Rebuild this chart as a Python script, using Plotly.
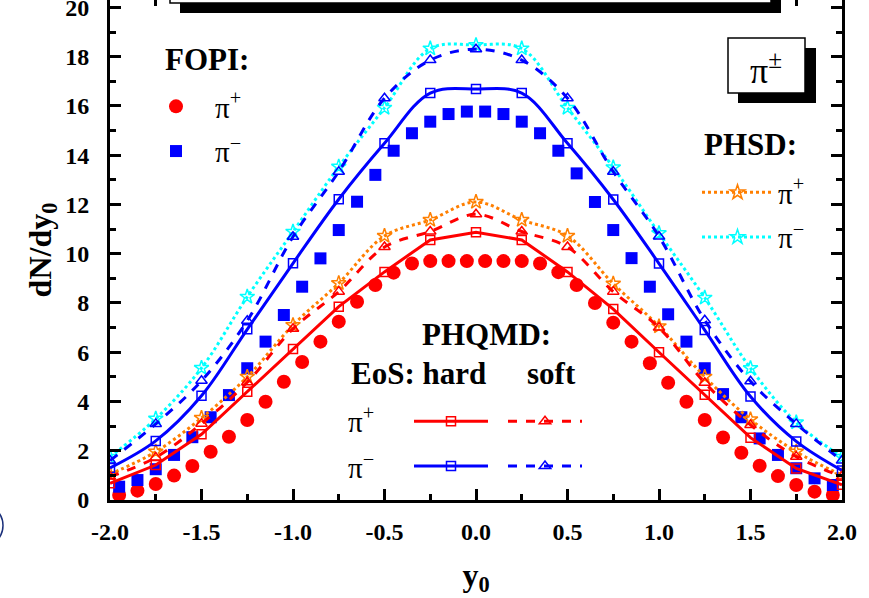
import plotly.graph_objects as go

# ---------------- data ----------------
fopi_y0 = [-1.95, -1.85, -1.75, -1.65, -1.55, -1.45, -1.35, -1.25, -1.15, -1.05,
           -0.95, -0.85, -0.75, -0.65, -0.55, -0.45, -0.35, -0.25, -0.15, -0.05,
           0.05, 0.15, 0.25, 0.35, 0.45, 0.55, 0.65, 0.75, 0.85, 0.95,
           1.05, 1.15, 1.25, 1.35, 1.45, 1.55, 1.65, 1.75, 1.85, 1.95]
fopi_pip = [0.20, 0.38, 0.65, 0.99, 1.38, 1.96, 2.57, 3.25, 3.99, 4.80,
            5.60, 6.43, 7.24, 8.05, 8.73, 9.23, 9.60, 9.70, 9.70, 9.70,
            9.70, 9.70, 9.70, 9.60, 9.25, 8.73, 8.00, 7.20, 6.43, 5.55,
            4.76, 3.99, 3.25, 2.54, 1.92, 1.39, 0.97, 0.61, 0.34, 0.20]
fopi_pim = [0.54, 0.81, 1.25, 1.83, 2.55, 3.36, 4.26, 5.35, 6.43, 7.51,
            8.66, 9.81, 10.96, 12.11, 13.20, 14.18, 14.89, 15.36, 15.67, 15.77,
            15.77, 15.67, 15.36, 14.89, 14.18, 13.26, 12.10, 10.96, 9.82, 8.66,
            7.54, 6.43, 5.35, 4.30, 3.36, 2.50, 1.83, 1.29, 0.88, 0.61]

model_y0 = [-2.0, -1.75, -1.5, -1.25, -1.0, -0.75, -0.5, -0.25, 0.0,
            0.25, 0.5, 0.75, 1.0, 1.25, 1.5, 1.75, 2.0]
phqmd_hard_pip = [0.68, 1.42, 2.67, 4.40, 6.13, 7.85, 9.26, 10.56, 10.87,
                  10.56, 9.26, 7.75, 6.00, 4.27, 2.53, 1.28, 0.62]
phqmd_soft_pip = [0.95, 1.73, 3.10, 4.78, 6.95, 8.46, 10.27, 10.90, 11.60,
                  10.90, 10.27, 8.46, 7.00, 4.76, 3.05, 1.76, 0.95]
phqmd_hard_pim = [1.30, 2.40, 4.23, 6.93, 9.61, 12.21, 14.48, 16.52, 16.69,
                  16.52, 14.48, 12.20, 9.60, 6.90, 4.20, 2.38, 1.20]
phqmd_soft_pim = [1.60, 3.09, 4.84, 7.28, 10.69, 13.33, 16.31, 17.86, 18.30,
                  17.86, 16.31, 13.33, 10.70, 7.30, 4.82, 3.09, 1.60]
phsd_pip = [1.05, 1.96, 3.33, 5.00, 7.10, 8.80, 10.72, 11.37, 12.10,
            11.37, 10.72, 8.78, 7.05, 5.00, 3.27, 1.96, 1.00]
phsd_pim = [1.75, 3.30, 5.36, 8.25, 10.89, 13.53, 15.92, 18.33, 18.47,
            18.33, 15.92, 13.50, 10.83, 8.21, 5.35, 3.15, 1.75]

x_tick_vals = [-2.0, -1.5, -1.0, -0.5, 0.0, 0.5, 1.0, 1.5, 2.0]
x_tick_labels = ["-2.0", "-1.5", "-1.0", "-0.5", "0.0", "0.5", "1.0", "1.5", "2.0"]
y_tick_vals = [0, 2, 4, 6, 8, 10, 12, 14, 16, 18, 20]
y_tick_labels = ["0", "2", "4", "6", "8", "10", "12", "14", "16", "18", "20"]

# ---------------- style ----------------
RED, BLUE, ORANGE, CYAN = "#FF0000", "#0000FF", "#FF7F00", "#00FFFF"
SERIF = "Liberation Serif"
W, H = 869, 598
ML, MR, MT, MB = 110, 27, 0, 98
PW, PH = W - ML - MR, H - MT - MB


def px(x):
    return (x - ML) / PW


def py(y):
    return (MT + PH - y) / PH


fig = go.Figure()

fig.add_trace(go.Scatter(x=fopi_y0, y=fopi_pip, mode="markers", name="π<sup>+</sup>",
                         marker=dict(symbol="circle", size=14, color=RED, line=dict(width=0)),
                         legend="legend", legendgroup="f1"))
fig.add_trace(go.Scatter(x=fopi_y0, y=fopi_pim, mode="markers", name="π<sup>−</sup>",
                         marker=dict(symbol="square", size=12, color=BLUE, line=dict(width=0)),
                         legend="legend", legendgroup="f2"))

fig.add_trace(go.Scatter(x=model_y0, y=phsd_pip, mode="lines+markers", name="π<sup>+</sup>",
                         line=dict(color=ORANGE, width=3, dash="dot", shape="spline"),
                         marker=dict(symbol="star-open", size=11, color=ORANGE, line=dict(width=1.5)),
                         legend="legend2", legendgroup="p1"))
fig.add_trace(go.Scatter(x=model_y0, y=phsd_pim, mode="lines+markers", name="π<sup>−</sup>",
                         line=dict(color=CYAN, width=3, dash="dot", shape="spline"),
                         marker=dict(symbol="star-open", size=11, color=CYAN, line=dict(width=1.5)),
                         legend="legend2", legendgroup="p2"))

fig.add_trace(go.Scatter(x=model_y0, y=phqmd_hard_pip, mode="lines+markers", name=" ",
                         line=dict(color=RED, width=3),
                         marker=dict(symbol="square-open", size=9, color=RED, line=dict(width=1.5)),
                         legend="legend3", legendgroup="h1"))
fig.add_trace(go.Scatter(x=model_y0, y=phqmd_hard_pim, mode="lines+markers", name=" ",
                         line=dict(color=BLUE, width=3, shape="spline"),
                         marker=dict(symbol="square-open", size=9, color=BLUE, line=dict(width=1.5)),
                         legend="legend3", legendgroup="h2"))
fig.add_trace(go.Scatter(x=model_y0, y=phqmd_soft_pip, mode="lines+markers", name=" ",
                         line=dict(color=RED, width=3, dash="dash", shape="spline"),
                         marker=dict(symbol="triangle-up-open", size=10, color=RED, line=dict(width=1.5)),
                         legend="legend4", legendgroup="s1"))
fig.add_trace(go.Scatter(x=model_y0, y=phqmd_soft_pim, mode="lines+markers", name=" ",
                         line=dict(color=BLUE, width=3, dash="dash", shape="spline"),
                         marker=dict(symbol="triangle-up-open", size=10, color=BLUE, line=dict(width=1.5)),
                         legend="legend4", legendgroup="s2"))

leg_font = dict(family=SERIF, size=29, color="black")
common_leg = dict(bgcolor="rgba(0,0,0,0)", borderwidth=0, font=leg_font,
                  traceorder="grouped", xanchor="left", yanchor="top", tracegroupgap=4)

fig.update_layout(
    width=W, height=H,
    margin=dict(l=ML, r=MR, t=MT, b=MB, autoexpand=False),
    paper_bgcolor="white", plot_bgcolor="white",
    font=dict(family=SERIF, color="black"),
    showlegend=True,
    legend=dict(common_leg, x=px(137), y=py(81), itemwidth=68),
    legend2=dict(common_leg, x=px(697), y=py(167), itemwidth=71),
    legend3=dict(common_leg, x=px(409), y=py(396), itemwidth=74),
    legend4=dict(common_leg, x=px(503), y=py(396), itemwidth=74),
)

fig.update_xaxes(
    range=[-2.0, 2.0], tickmode="array", tickvals=x_tick_vals, ticktext=x_tick_labels,
    ticks="inside", ticklen=11, tickwidth=2.5, tickcolor="black",
    minor=dict(tickmode="linear", tick0=-2.0, dtick=0.25, ticks="inside", ticklen=6,
               tickwidth=2.5, tickcolor="black"),
    showline=True, linewidth=3, linecolor="black", mirror="allticks",
    showgrid=False, zeroline=False,
    tickfont=dict(family=SERIF, size=24, color="black", weight="bold"),
    ticklabelstandoff=8, ticklabeloverflow="allow",
    title=dict(text="y<sub>0</sub>", font=dict(family=SERIF, size=32, color="black", weight="bold"),
               standoff=20),
)
fig.update_yaxes(
    range=[0, 20.3], tickmode="array", tickvals=y_tick_vals, ticktext=y_tick_labels,
    ticks="inside", ticklen=11, tickwidth=2.5, tickcolor="black",
    minor=dict(tickmode="linear", tick0=0, dtick=1, ticks="inside", ticklen=6,
               tickwidth=2.5, tickcolor="black"),
    showline=True, linewidth=3, linecolor="black", mirror="allticks",
    showgrid=False, zeroline=False,
    tickfont=dict(family=SERIF, size=24, color="black", weight="bold"),
    ticklabelstandoff=13, ticklabeloverflow="allow",
    title=dict(text="dN/dy<sub>0</sub>", font=dict(family=SERIF, size=32, color="black", weight="bold"),
               standoff=5),
)

# decorative boxes (title box cut at top, particle box) and edge artifact
shapes = [
    dict(type="rect", xref="paper", yref="paper", x0=px(180), x1=px(781), y0=py(13), y1=py(-30),
         fillcolor="black", line=dict(width=0), layer="above"),
    dict(type="rect", xref="paper", yref="paper", x0=px(170), x1=px(771), y0=py(3), y1=py(-40),
         fillcolor="white", line=dict(color="black", width=1.5), layer="above"),
    dict(type="rect", xref="paper", yref="paper", x0=px(738), x1=px(816), y0=py(103), y1=py(48),
         fillcolor="black", line=dict(width=0), layer="above"),
    dict(type="rect", xref="paper", yref="paper", x0=px(728), x1=px(805), y0=py(93), y1=py(38),
         fillcolor="white", line=dict(color="black", width=1.5), layer="above"),
    dict(type="circle", xref="paper", yref="paper", x0=px(-40), x1=px(3), y0=py(547), y1=py(504),
         fillcolor="rgba(0,0,0,0)", line=dict(color="#1a2f7a", width=1.5), layer="above"),
]
fig.update_layout(shapes=shapes)

bold = dict(family=SERIF, size=31, color="black", weight="bold")
reg = dict(family=SERIF, size=29, color="black")
annotations = [
    dict(text="π<sup>±</sup>", x=px(766), y=py(68), font=dict(family=SERIF, size=36, color="black")),
    dict(text="FOPI:", x=px(207), y=py(59), font=bold),
    dict(text="PHSD:", x=px(750), y=py(144), font=bold),
    dict(text="PHQMD:", x=px(486), y=py(335), font=bold),
    dict(text="EoS: hard", x=px(418), y=py(373), font=bold),
    dict(text="soft", x=px(551), y=py(373), font=bold),
    dict(text="π<sup>+</sup>", x=px(361), y=py(420), font=reg),
    dict(text="π<sup>−</sup>", x=px(361), y=py(466), font=reg),
]
for a in annotations:
    a.update(xref="paper", yref="paper", showarrow=False, xanchor="center", yanchor="middle")
fig.update_layout(annotations=annotations)

fig.write_html("out.html", config={"displayModeBar": False},
               post_script="document.body.style.margin='0px';")
